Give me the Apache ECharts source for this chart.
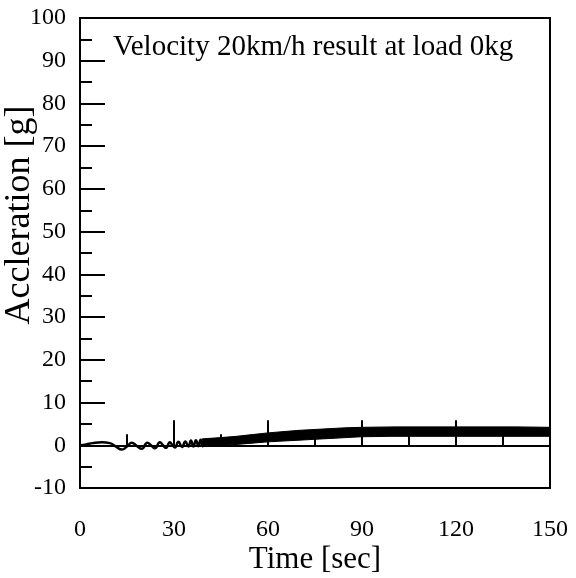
<!DOCTYPE html>
<html><head><meta charset="utf-8">
<script src="https://cdn.jsdelivr.net/npm/echarts@6/dist/echarts.min.js"></script>
<style>html,body{margin:0;padding:0;background:#fff}#c{width:576px;height:578px}</style>
</head><body><div id="c"></div>
<script>
// Early part of the signal: visible oscillation (time in s, acceleration in g)
const earlyTime  = [0, 2, 4, 7, 9.5, 11.5, 13.3, 15, 16.5, 18.2, 19.7, 21.5, 22.8, 23.9, 25.5, 26.5, 27.4, 28.7, 29.5, 30.3, 31.4, 32.6, 33.6, 34.6, 35.4, 36.2, 37.0, 37.8, 38.5, 39.2, 39.9];
const earlyAccel = [0, 0.2, 0.5, 0.7, 0.5, -0.3, -1.0, -0.3, 0.6, -0.2, -0.8, 0.6, -0.1, -0.7, 0.7, 0.0, -0.6, 0.7, 0.0, -0.5, 0.8, -0.4, 0.9, -0.3, 1.1, -0.3, 1.2, -0.2, 1.3, -0.2, 1.4];
// Dense part of the signal: lower and upper envelope of the oscillation band
const bandTime = [39, 45, 50, 55, 60, 65, 70, 75, 80, 85, 90, 100, 110, 120, 130, 140, 150];
const bandLow  = [-0.3, 0.0, 0.2, 0.5, 0.8, 1.0, 1.2, 1.4, 1.6, 1.8, 2.0, 2.1, 2.1, 2.1, 2.1, 2.1, 2.1];
const bandHigh = [1.5, 1.8, 2.1, 2.5, 2.9, 3.2, 3.5, 3.7, 3.9, 4.1, 4.2, 4.3, 4.3, 4.3, 4.3, 4.3, 4.2];
// Axes
const xTicks = [0, 30, 60, 90, 120, 150];
const yTicks = [-10, 0, 10, 20, 30, 40, 50, 60, 70, 80, 90, 100];
const titleText = 'Velocity 20km/h result at load 0kg';
const xName = 'Time [sec]';
const yName = 'Accleration [g]';

const FONT = "'Liberation Serif', 'Times New Roman', serif";
const chart = echarts.init(document.getElementById('c'), null, {renderer: 'canvas'});

const earlyData = earlyTime.map((t, i) => [t, earlyAccel[i]]);
const bandSegments = [];
for (let i = 0; i < bandTime.length - 1; i++) {
  bandSegments.push([bandTime[i], bandLow[i], bandHigh[i], bandTime[i + 1], bandLow[i + 1], bandHigh[i + 1]]);
}

chart.setOption({
  animation: false,
  backgroundColor: '#fff',
  title: {
    text: titleText, left: 108, top: 28,
    textStyle: {fontFamily: FONT, fontSize: 29, fontWeight: 'normal', color: '#000'}
  },
  grid: {left: 80, right: 26, top: 18, bottom: 90, containLabel: false, outerBoundsMode: 'none',
    show: true, borderColor: '#000', borderWidth: 2, backgroundColor: 'transparent'},
  xAxis: {
    type: 'value', min: xTicks[0], max: xTicks[xTicks.length - 1], interval: 30,
    name: xName, nameLocation: 'middle', nameGap: 56, nameMoveOverlap: false,
    nameTextStyle: {fontFamily: FONT, fontSize: 31, color: '#000'},
    axisLine: {show: true, lineStyle: {color: '#000', width: 2}},
    axisTick: {show: true, inside: true, length: 25, lineStyle: {color: '#000', width: 2}},
    minorTick: {show: true, splitNumber: 2, length: 11, lineStyle: {color: '#000', width: 2}},
    axisLabel: {fontFamily: FONT, fontSize: 24, color: '#000', margin: 30},
    splitLine: {show: false}
  },
  yAxis: {
    type: 'value', min: yTicks[0], max: yTicks[yTicks.length - 1], interval: 10,
    name: yName, nameLocation: 'middle', nameGap: 42, nameMoveOverlap: false,
    nameTextStyle: {fontFamily: FONT, fontSize: 36, color: '#000', padding: [0, 0, 0, 76]},
    axisLine: {show: true, lineStyle: {color: '#000', width: 2}},
    axisTick: {show: true, inside: true, length: 25, lineStyle: {color: '#000', width: 2}},
    minorTick: {show: true, splitNumber: 2, length: 12, lineStyle: {color: '#000', width: 2}},
    axisLabel: {fontFamily: FONT, fontSize: 24, color: '#000', margin: 14},
    splitLine: {show: false}
  },
  series: [
    {
      type: 'line', data: earlyData, smooth: 0.5, symbol: 'none',
      lineStyle: {color: '#000', width: 2.5}
    },
    {
      type: 'custom', data: bandSegments,
      encode: {x: [0, 3], y: [1, 2, 4, 5]},
      renderItem: function (params, api) {
        const a = api.coord([api.value(0), api.value(1)]);
        const b = api.coord([api.value(3), api.value(4)]);
        const c = api.coord([api.value(3), api.value(5)]);
        const d = api.coord([api.value(0), api.value(2)]);
        return {
          type: 'polygon',
          shape: {points: [a, b, c, d]},
          style: {fill: '#000', stroke: '#000', lineWidth: 1}
        };
      }
    }
  ]
});
</script></body></html>
